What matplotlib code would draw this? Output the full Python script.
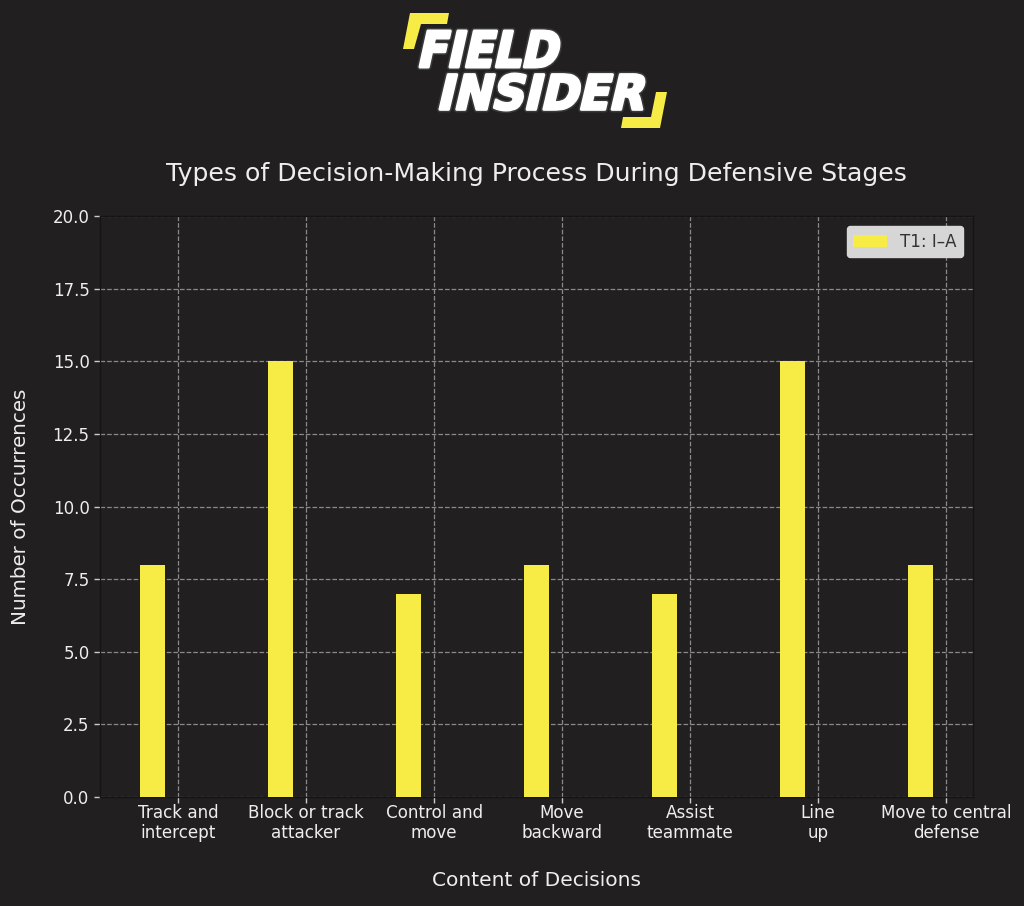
import matplotlib
matplotlib.use("Agg")
import matplotlib.pyplot as plt
from matplotlib.patches import Polygon, PathPatch
from matplotlib.textpath import TextPath
from matplotlib.font_manager import FontProperties
from matplotlib.transforms import Affine2D
import numpy as np

plt.rcParams["font.family"] = ["DejaVu Sans"]

categories = ["Track and\nintercept", "Block or track\nattacker", "Control and\nmove",
              "Move\nbackward", "Assist\nteammate", "Line\nup", "Move to central\ndefense"]
values_t1 = [8, 15, 7, 8, 7, 15, 8]
series_label = "T1: I\u2013A"
yticks = [0.0, 2.5, 5.0, 7.5, 10.0, 12.5, 15.0, 17.5, 20.0]

BG = "#221f20"
YEL = "#f7ec45"
TXT = "#eeeeee"

W, H = 1024, 906
fig = plt.figure(figsize=(W / 100, H / 100), dpi=100, facecolor=BG)
ax = fig.add_axes([100 / W, 1 - 797 / H, (973 - 100) / W, (797 - 216) / H], facecolor=BG)

x = np.arange(len(categories))
width = 0.2
ax.bar(x - width, values_t1, width, color=YEL, label=series_label, zorder=3)

ax.set_xlim(-0.61, 6.21)
ax.set_ylim(0, 20)
ax.set_yticks(yticks)
ax.set_yticklabels([f"{v:.1f}" for v in yticks], fontsize=12, color=TXT)
ax.set_xticks(x)
ax.set_xticklabels(categories, fontsize=12.1, color=TXT, linespacing=1.15)
ax.tick_params(colors="#cccccc", length=4, width=1)
ax.tick_params(axis="x", labelcolor=TXT, pad=1)
ax.tick_params(axis="y", labelcolor=TXT)
ax.grid(True, linestyle="--", color="#8a8a8a", linewidth=0.9, zorder=0)
for s in ax.spines.values():
    s.set_color("#161414")
    s.set_linewidth(1)

ax.set_xlabel("Content of Decisions", fontsize=14.5, color=TXT, labelpad=21)
ax.set_ylabel("Number of Occurrences", fontsize=14.3, color=TXT, labelpad=16)
ax.set_title("Types of Decision-Making Process During Defensive Stages", fontsize=18.1,
             color=TXT, pad=25)

leg = ax.legend(loc="upper right", fontsize=12, facecolor="#d6d6d6", edgecolor="#d6d6d6",
                framealpha=1, borderaxespad=0.6, handlelength=2.0)
for t in leg.get_texts():
    t.set_color("#333333")

# Logo
def px(xp, yp):
    return (xp / W, 1 - yp / H)

top_br = [px(410, 13), px(449, 13), px(447, 24), px(421, 24), px(414, 49), px(403, 49)]
bot_br = [px(656, 92), px(667, 92), px(660, 128), px(621, 128), px(623, 117), px(651, 117)]
for pts in (top_br, bot_br):
    fig.patches.append(Polygon(pts, closed=True, transform=fig.transFigure,
                               facecolor=YEL, edgecolor="none"))

fp = FontProperties(family="DejaVu Sans", weight="bold", style="normal")

def logo_word(word, x0, y_top, w, h):
    tp = TextPath((0, 0), word, prop=fp, size=50)
    tp = Affine2D().skew_deg(14, 0).transform_path(tp)
    ext = tp.get_extents()
    sx = w / ext.width
    sy = h / ext.height
    tr = (Affine2D().translate(-ext.x0, -ext.y0).scale(sx, sy)
          .translate(x0, H - y_top - h))
    path = tr.transform_path(tp)
    fig.patches.append(PathPatch(path, transform=None, facecolor="none",
                                 edgecolor="#3a3a3a", linewidth=4.5, joinstyle="round"))
    fig.patches.append(PathPatch(path, transform=None, facecolor="white",
                                 edgecolor="white", linewidth=2.2, joinstyle="round"))

logo_word("FIELD", 420, 31, 139, 36)
logo_word("INSIDER", 440, 74, 204, 36)

fig.savefig("out.png", dpi=100, facecolor=BG)
